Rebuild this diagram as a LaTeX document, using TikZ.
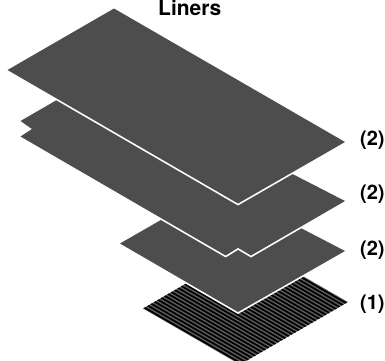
\documentclass[tikz,border=0pt]{standalone}
\usepackage{fontspec}
\setmainfont{TeX Gyre Heros}
\definecolor{sheetgray}{HTML}{4D4D4D}
\definecolor{stripegray}{HTML}{5E5E5E}
\tikzset{
  sheet/.style={fill=sheetgray,preaction={draw=white,line width=3.4pt,miter limit=10}},
  lbl/.style={font=\bfseries\fontsize{20}{20}\selectfont,text=black,inner sep=0pt,anchor=base west},
  ttl/.style={font=\bfseries\fontsize{21}{21}\selectfont,text=black,inner sep=0pt,anchor=base west},
}
\begin{document}
\begin{tikzpicture}[x=1pt,y=-1pt]
\useasboundingbox (0,0) rectangle (385,360);
\clip (0,0) rectangle (385,360);
% striped bottom sheet
\begin{scope}
  \clip (143,308.5) -- (250.7,246) -- (348,302) -- (240,364.5) -- cycle;
  \fill[stripegray] (143,308.5) -- (250.7,246) -- (348,302) -- (240,364.5) -- cycle;
  \foreach \k in {0,...,32}{
    \draw[black,line width=1.75pt] (100,{161+\k*3.9}) -- (400,{161+\k*3.9+173.2});
  }
\end{scope}
% third sheet
\path[sheet] (120,243.5) -- (220,186) -- (345,251) -- (238,312) -- cycle;
% second sheet
\path[sheet] (20.5,121) -- (100,75) -- (345,201) -- (251,255.5) -- (238,247.8) -- (225.7,255.5) -- (20.5,136.5) -- (32,129) -- cycle;
% top sheet
\path[sheet] (114,8.5) -- (345,142) -- (238,203.5) -- (7.5,70) -- cycle;
\node[ttl] (title) at (158,15) {Liners};
\node[lbl] (n1) at (360,145.5) {(2)};
\node[lbl] (n2) at (360,199) {(2)};
\node[lbl] (n3) at (360,255) {(2)};
\node[lbl] (n4) at (360,309) {(1)};
\end{tikzpicture}
\end{document}
